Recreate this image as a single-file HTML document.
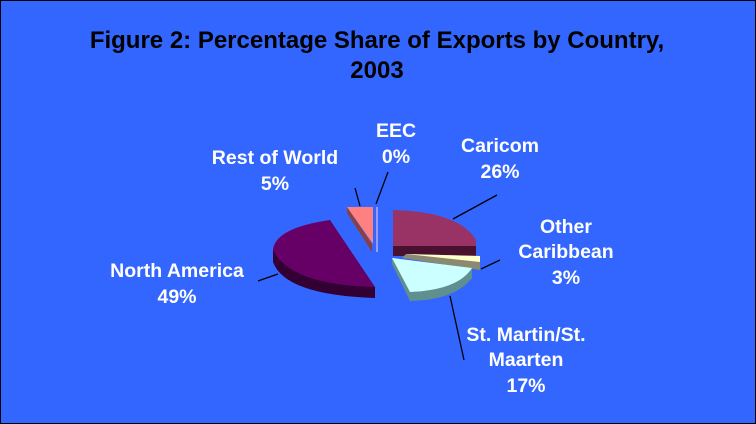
<!DOCTYPE html>
<html><head><meta charset="utf-8"><style>
html,body{margin:0;padding:0;background:#3366ff;}
svg{display:block;}
text{font-family:"Liberation Sans",Arial,sans-serif;font-weight:bold;}
</style></head><body>
<svg width="756" height="424" viewBox="0 0 756 424" xmlns="http://www.w3.org/2000/svg">
<rect x="0.5" y="0.5" width="755" height="423" fill="#3366ff" stroke="#000" stroke-width="1"/>
<text x="377" y="48" font-size="24" text-anchor="middle" fill="#000">Figure 2: Percentage Share of Exports by Country,</text>
<text x="377" y="78" font-size="24" text-anchor="middle" fill="#000">2003</text>
<g stroke="#000" stroke-width="1.3" fill="none">
<line x1="355" y1="188" x2="360" y2="206"/>
<line x1="388" y1="172" x2="376" y2="204"/>
<line x1="453" y1="219" x2="497" y2="195"/>
<line x1="481" y1="269" x2="500" y2="260"/>
<line x1="450" y1="296" x2="464" y2="360"/>
<line x1="258" y1="281" x2="278" y2="274"/>
</g>
<!-- North America -->
<path d="M273,250 L273,262 Q285,295 375,298 L375,287 Z" fill="#330033"/>
<path d="M273,250 Q275,228 330,220 L375,287 Q290,285 273,250 Z" fill="#660066"/>
<!-- Rest of World -->
<path d="M347,207 L347,213 L372,252 L372,244 Z" fill="#8a4040"/>
<path d="M347,207 L373,207 L373,244 Z" fill="#ff8080"/>
<!-- EEC -->
<rect x="376" y="207" width="2" height="45" fill="#9999ff"/>
<!-- Caricom -->
<path d="M393,246 L476,246 L476,256 L393,256 Z" fill="#4a1030"/>
<path d="M393,210 Q460,212 476,240 L476,246 L393,246 Z" fill="#993366"/>
<!-- Other Caribbean -->
<path d="M406,254 L480,256 L480,270 L402,258 Z" fill="#8a8a70"/>
<path d="M406,254 L480,256 L480,262 Z" fill="#ffffcc"/>
<!-- St Martin -->
<path d="M392,258 L472,268 L472,278 Q455,300 410,301 L392,264 Z" fill="#5f8f8f"/>
<path d="M392,258 L472,268 Q458,290 410,292 Z" fill="#ccffff"/>
<g fill="#fff" font-size="19.5" text-anchor="middle">
<text x="275" y="164">Rest of World</text>
<text x="275" y="190">5%</text>
<text x="396" y="137">EEC</text>
<text x="396" y="163">0%</text>
<text x="500" y="152">Caricom</text>
<text x="500" y="178">26%</text>
<text x="566" y="233">Other</text>
<text x="566" y="258">Caribbean</text>
<text x="566" y="284">3%</text>
<text x="177" y="277">North America</text>
<text x="177" y="303">49%</text>
<text x="526" y="341">St. Martin/St.</text>
<text x="526" y="366">Maarten</text>
<text x="526" y="392">17%</text>
</g>
</svg>
</body></html>
